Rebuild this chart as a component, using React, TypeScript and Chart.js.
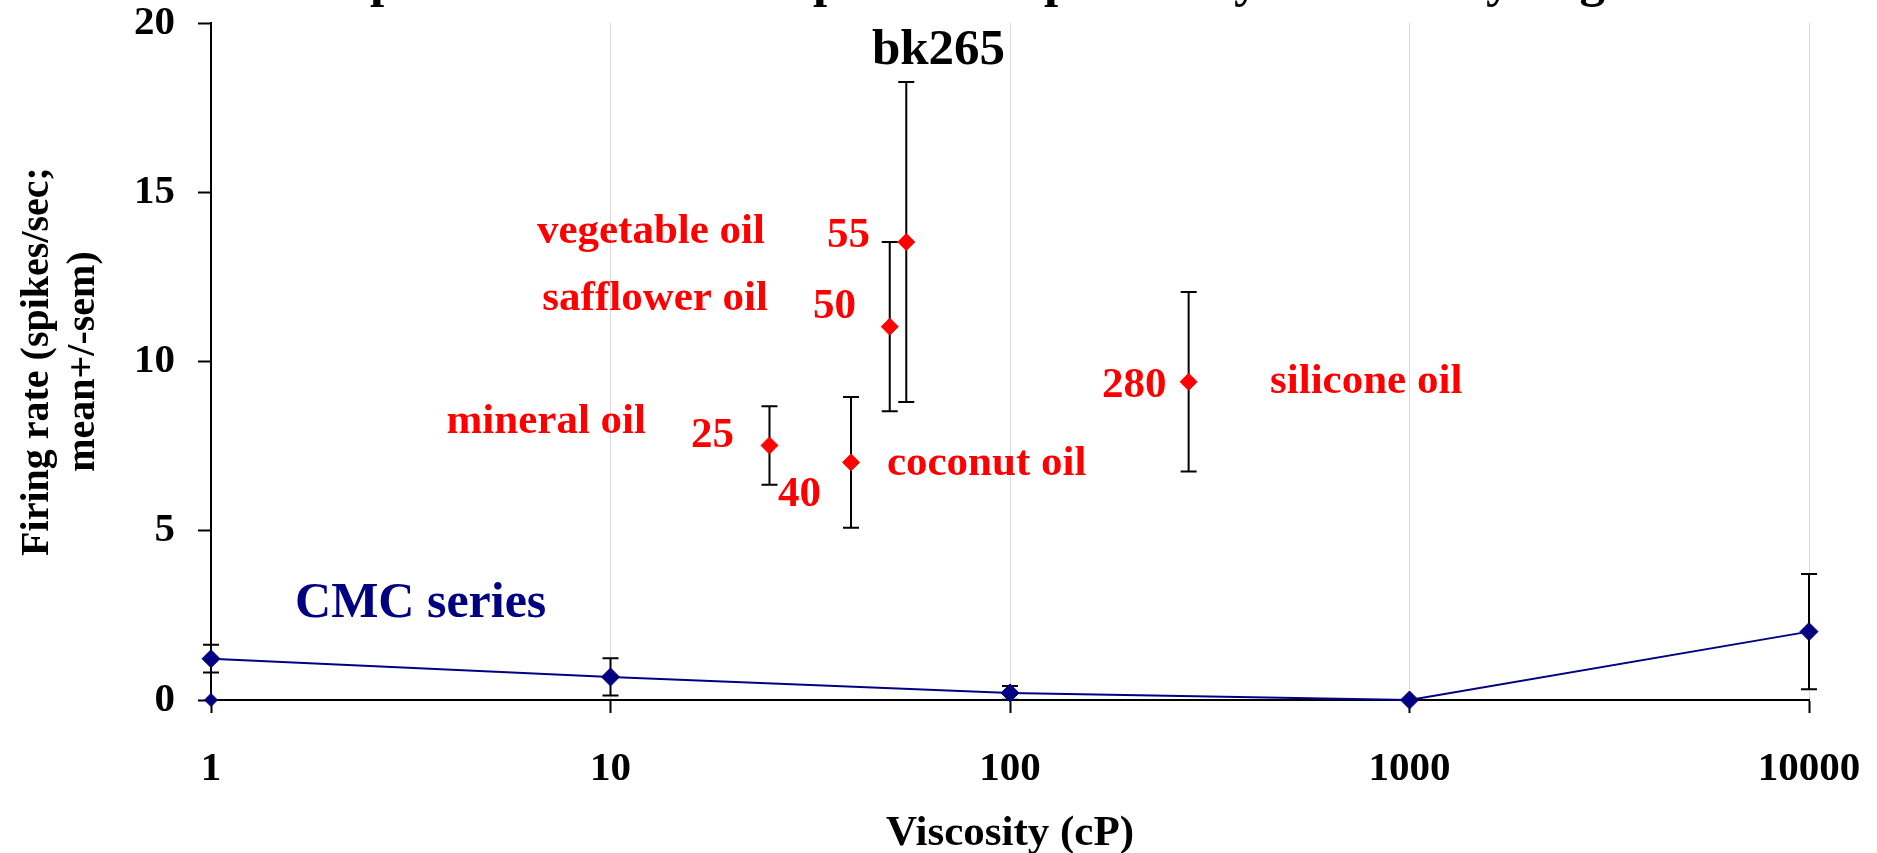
import React, { useEffect, useRef } from "react";
import { Chart, registerables } from "chart.js";

Chart.register(...registerables);

// ---- data ----
const cmcViscosity = [1, 10, 100, 1000, 10000];
const cmcRate = [1.22, 0.68, 0.21, 0, 2.02];
const cmcSem = [0.41, 0.55, 0.2, 0, 1.7];

const baselineViscosity = [1];
const baselineRate = [0];

const oilNames = ["mineral oil", "coconut oil", "safflower oil", "vegetable oil", "silicone oil"];
const oilViscosity = [25, 40, 50, 55, 280];
const oilRate = [7.52, 7.02, 11.03, 13.53, 9.4];
const oilSem = [1.16, 1.93, 2.5, 4.73, 2.65];

const xTickValues = [1, 10, 100, 1000, 10000];
const yTickValues = [0, 5, 10, 15, 20];

const titleLines = ["Fat-responsive neuron's response independently of viscosity in gels", "bk265"];
const xTitle = "Viscosity (cP)";
const yTitle = ["Firing rate (spikes/sec;", "mean+/-sem)"];
const cmcLabel = "CMC series";

// ---- annotation anchors (data units: viscosity, firing rate) ----
const oilNameAnchors = [
  { x: 12.27, y: 7.89, align: "right" },
  { x: 49.2, y: 6.65, align: "left" },
  { x: 24.79, y: 11.52, align: "right" },
  { x: 24.36, y: 13.5, align: "right" },
  { x: 447.6, y: 9.07, align: "left" },
];
const oilValueAnchors = [
  { x: 20.38, y: 7.47, align: "right" },
  { x: 26.26, y: 5.73, align: "left" },
  { x: 32.13, y: 11.29, align: "left" },
  { x: 34.83, y: 13.38, align: "left" },
  { x: 169.9, y: 8.95, align: "left" },
];
const cmcLabelAnchor = { x: 1.623, y: 2.45 };

const NAVY = "#000080";
const RED = "#ff0000";
const FAMILY = "'Liberation Serif', 'Times New Roman', Times, serif";

const errorBarPlugin = {
  id: "errorBars",
  beforeDatasetsDraw(chart: any) {
    const { ctx, scales } = chart;
    const xs = scales.x;
    const ys = scales.y;
    const draw = (vx: number[], vy: number[], se: number[]) => {
      vx.forEach((v, i) => {
        if (!se[i]) return;
        const px = xs.getPixelForValue(v);
        const top = ys.getPixelForValue(vy[i] + se[i]);
        const bot = ys.getPixelForValue(Math.max(0, vy[i] - se[i]));
        ctx.save();
        ctx.strokeStyle = "#000";
        ctx.lineWidth = 2;
        ctx.beginPath();
        ctx.moveTo(px, top);
        ctx.lineTo(px, bot);
        ctx.moveTo(px - 8, top);
        ctx.lineTo(px + 8, top);
        ctx.moveTo(px - 8, bot);
        ctx.lineTo(px + 8, bot);
        ctx.stroke();
        ctx.restore();
      });
    };
    draw(cmcViscosity, cmcRate, cmcSem);
    draw(oilViscosity, oilRate, oilSem);
  },
};

const textPlugin = {
  id: "textAnnotations",
  afterDraw(chart: any) {
    const { ctx, scales, width } = chart;
    const xs = scales.x;
    const ys = scales.y;
    ctx.save();
    ctx.textBaseline = "alphabetic";
    // title
    ctx.fillStyle = "#000";
    ctx.textAlign = "center";
    ctx.font = `bold 51px ${FAMILY}`;
    ctx.fillText(titleLines[0], width / 2, -4);
    ctx.fillText(titleLines[1], width / 2, 64);
    // oil labels
    ctx.fillStyle = RED;
    ctx.font = `bold 43px ${FAMILY}`;
    oilNames.forEach((name, i) => {
      const a = oilNameAnchors[i];
      ctx.textAlign = a.align;
      ctx.fillText(name, xs.getPixelForValue(a.x), ys.getPixelForValue(a.y));
      const b = oilValueAnchors[i];
      ctx.textAlign = b.align;
      ctx.fillText(String(oilViscosity[i]), xs.getPixelForValue(b.x), ys.getPixelForValue(b.y));
    });
    // CMC label
    ctx.fillStyle = NAVY;
    ctx.font = `bold 50px ${FAMILY}`;
    ctx.textAlign = "left";
    ctx.fillText(cmcLabel, xs.getPixelForValue(cmcLabelAnchor.x), ys.getPixelForValue(cmcLabelAnchor.y));
    ctx.restore();
  },
};

export default function App() {
  const ref = useRef<HTMLCanvasElement | null>(null);
  useEffect(() => {
    document.body.style.margin = "0";
    const canvas = ref.current;
    if (!canvas) return;
    const tickFont = { family: FAMILY, size: 41, weight: "bold" as const };
    const chart = new Chart(canvas, {
      type: "scatter",
      data: {
        datasets: [
          {
            label: "CMC series",
            data: cmcViscosity.map((x, i) => ({ x, y: cmcRate[i] })),
            showLine: true,
            borderColor: NAVY,
            borderWidth: 2,
            backgroundColor: NAVY,
            pointStyle: "rectRot",
            pointRadius: 9,
            pointBorderWidth: 1,
            pointBorderColor: NAVY,
            pointBackgroundColor: NAVY,
            clip: false,
          },
          {
            label: "baseline",
            data: baselineViscosity.map((x, i) => ({ x, y: baselineRate[i] })),
            showLine: false,
            backgroundColor: NAVY,
            borderColor: NAVY,
            pointStyle: "rectRot",
            pointRadius: 6.5,
            pointBorderWidth: 1,
            clip: false,
          },
          {
            label: "oils",
            data: oilViscosity.map((x, i) => ({ x, y: oilRate[i] })),
            showLine: false,
            backgroundColor: RED,
            borderColor: RED,
            pointStyle: "rectRot",
            pointRadius: 8.5,
            pointBorderWidth: 1,
            clip: false,
          },
        ],
      },
      options: {
        responsive: false,
        animation: false,
        layout: { padding: { left: 0, right: 68, top: 23, bottom: 0 } },
        plugins: {
          legend: { display: false },
          tooltip: { enabled: false },
          title: { display: false },
        },
        scales: {
          x: {
            type: "logarithmic",
            min: 1,
            max: 10000,
            afterBuildTicks: (s: any) => {
              s.ticks = xTickValues.map((v) => ({ value: v }));
            },
            afterFit: (s: any) => {
              s.height = 153;
              s.paddingLeft = 0;
              s.paddingRight = 0;
            },
            ticks: {
              callback: (v: any) => String(v),
              font: tickFont,
              color: "#000",
              padding: 32,
              maxRotation: 0,
              autoSkip: false,
            },
            grid: { color: "#d9d9d9", lineWidth: 1, tickColor: "#000", tickWidth: 2, tickLength: 13 },
            border: { color: "#000", width: 2 },
            title: {
              display: true,
              text: xTitle,
              color: "#000",
              font: { family: FAMILY, size: 43, weight: "bold", lineHeight: 0.85 },
              padding: { top: 0, bottom: 1 },
            },
          },
          y: {
            min: 0,
            max: 20,
            afterBuildTicks: (s: any) => {
              s.ticks = yTickValues.map((v) => ({ value: v }));
            },
            afterFit: (s: any) => {
              s.width = 211;
              s.paddingTop = 0;
              s.paddingBottom = 0;
            },
            ticks: { font: tickFont, color: "#000", padding: 23 },
            grid: { drawOnChartArea: false, tickColor: "#000", tickWidth: 2, tickLength: 13 },
            border: { color: "#000", width: 2 },
            title: {
              display: true,
              text: yTitle,
              color: "#000",
              font: { family: FAMILY, size: 40, weight: "bold", lineHeight: 1.15 },
              padding: { top: 15, bottom: 0 },
            },
          },
        },
      },
      plugins: [errorBarPlugin, textPlugin],
    } as any);
    return () => chart.destroy();
  }, []);
  return (
    <div style={{ width: 1877, height: 853 }}>
      <canvas ref={ref} width={1877} height={853} style={{ display: "block" }} />
    </div>
  );
}
